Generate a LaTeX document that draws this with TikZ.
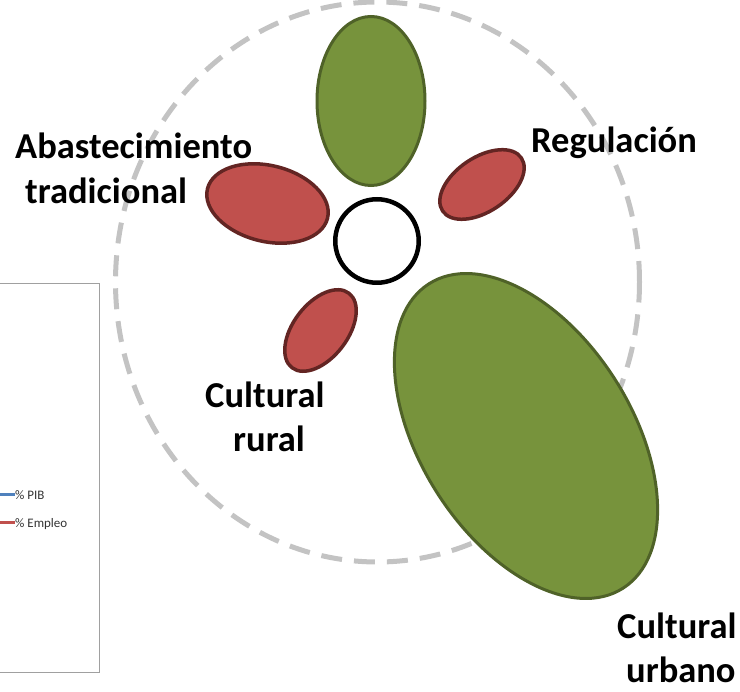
\documentclass[tikz,border=0pt]{standalone}
\usepackage{fontspec}
\setmainfont{Carlito}
\usetikzlibrary{shapes.geometric}
\definecolor{leafgreen}{HTML}{77933C}
\definecolor{leafgreenline}{HTML}{4F6228}
\definecolor{petalred}{HTML}{C0504D}
\definecolor{petalredline}{HTML}{632523}
\definecolor{ringgray}{HTML}{C3C3C3}
\definecolor{boxgray}{HTML}{A0A0A0}
\definecolor{legblue}{HTML}{4F81BD}
\definecolor{legred}{HTML}{C0504D}
\begin{document}
\begin{tikzpicture}[x=1pt,y=-1pt,
  greenpetal/.style={ellipse,draw=leafgreenline,fill=leafgreen,line width=3pt,inner sep=0pt,outer sep=0pt},
  redpetal/.style={ellipse,draw=petalredline,fill=petalred,line width=3.5pt,inner sep=0pt,outer sep=0pt},
  label/.style={font=\fontsize{36.5}{45}\selectfont\bfseries,inner sep=0pt,anchor=base west,text=black},
  legtext/.style={font=\fontsize{13}{15}\selectfont,inner sep=0pt,anchor=base west,text=black!80},
  legline/.style={line width=3pt}
]
\useasboundingbox (0,0) rectangle (740,692);
% chart box at left
\node[draw=boxgray,fill=white,line width=1pt,inner sep=0pt,minimum width=101pt,minimum height=388.5pt,anchor=north west] (chartbox) at (-2,283.5) {};
\coordinate (pibstart) at (-2,495);
\coordinate (empstart) at (-2,523);
\node[legtext] (pib) at (15,499.5) {\% PIB};
\node[legtext] (emp) at (15,528) {\% Empleo};
\draw[legline,legblue] (pibstart) -- (pib.base west |- pibstart);
\draw[legline,legred] (empstart) -- (emp.base west |- empstart);
% dashed ring
\node[ellipse,draw=ringgray,line width=5pt,dash pattern=on 21pt off 12pt,minimum width=524pt,minimum height=560pt,inner sep=0pt] (ring) at (377.5,282) {};
% petals
\node[greenpetal,minimum width=108pt,minimum height=169pt] (topleaf) at (371,101) {};
\node[greenpetal,minimum width=361pt,minimum height=211pt,rotate=-57.5] (bigleaf) at (526,436) {};
\node[redpetal,minimum width=123.6pt,minimum height=76pt,rotate=-13.7] (abast) at (267.5,203.5) {};
\node[redpetal,minimum width=95pt,minimum height=54.2pt,rotate=34] (regul) at (482,184.5) {};
\node[redpetal,minimum width=93.8pt,minimum height=54.4pt,rotate=52.6] (rural) at (320.5,330.5) {};
% centre
\node[circle,draw=black,fill=white,line width=4.5pt,minimum size=83.5pt,inner sep=0pt] (core) at (377,241) {};
% labels
\node[label] (abastA) at (15,159) {Abastecimiento};
\node[label] (abastB) at (25,204) {tradicional};
\node[label] (regulA) at (531,153) {Regulación};
\node[label] (ruralA) at (205,408) {Cultural};
\node[label] (ruralB) at (233,452) {rural};
\node[label] (urbA) at (617,639) {Cultural};
\node[label,text depth=0pt] (urbB) at (626,683) {urbano};
\end{tikzpicture}
\end{document}
